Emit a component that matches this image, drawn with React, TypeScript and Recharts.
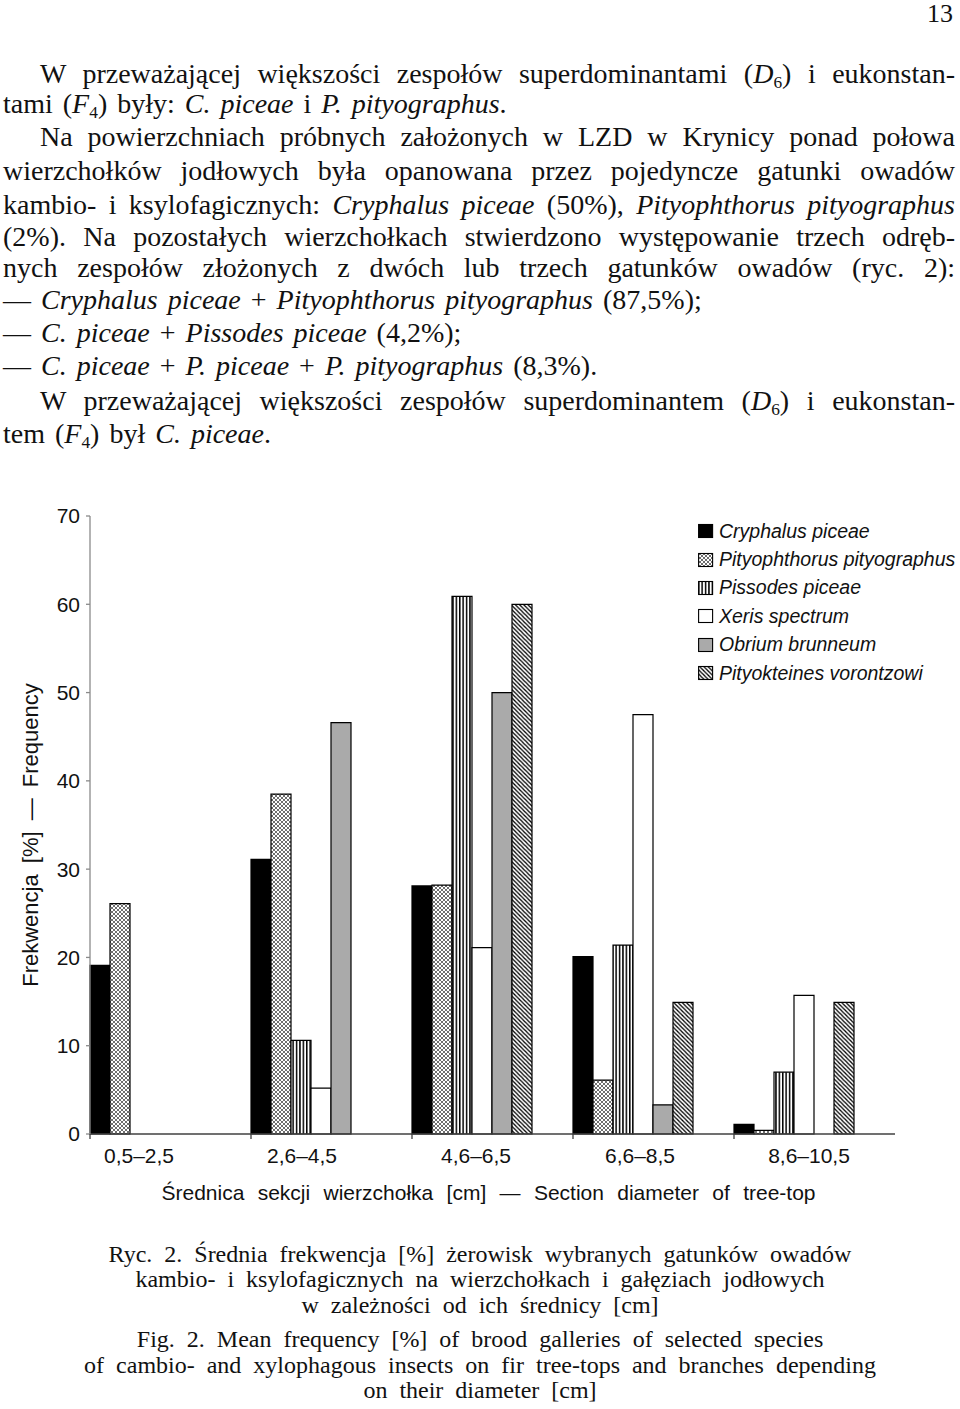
import React from 'react';
import { BarChart, Bar, XAxis, YAxis, Legend } from 'recharts';

// ---------- data ----------
const categories = ['0,5–2,5', '2,6–4,5', '4,6–6,5', '6,6–8,5', '8,6–10,5'];
const cryphalusPiceae = [19.1, 31.1, 28.1, 20.1, 1.1];
const pityophthorusPityographus = [26.1, 38.5, 28.2, 6.1, 0.4];
const pissodesPiceae = [0, 10.6, 60.9, 21.4, 7.0];
const xerisSpectrum = [0, 5.2, 21.1, 47.5, 15.7];
const obriumBrunneum = [0, 46.6, 50.0, 3.3, 0];
const pityokteinesVorontzowi = [0, 0, 60.0, 14.9, 14.9];
const yTicks = [0, 10, 20, 30, 40, 50, 60, 70];
const seriesNames = [
  'Cryphalus piceae',
  'Pityophthorus pityographus',
  'Pissodes piceae',
  'Xeris spectrum',
  'Obrium brunneum',
  'Pityokteines vorontzowi',
];
const seriesValues = [
  cryphalusPiceae,
  pityophthorusPityographus,
  pissodesPiceae,
  xerisSpectrum,
  obriumBrunneum,
  pityokteinesVorontzowi,
];

// ---------- styles / layout ----------
const SANS = '"Liberation Sans", Arial, Helvetica, sans-serif';
const SERIF = '"Liberation Serif", "Times New Roman", serif';
const CHART_TOP = 480;
const CHART_W = 960;
const CHART_H = 760;
const MARGIN = { top: 36, right: 65, bottom: 76, left: 50 };
const Y_AXIS_W = 40;
const X_AXIS_H = 30;
const PLOT_LEFT = MARGIN.left + Y_AXIS_W;
const PLOT_RIGHT = CHART_W - MARGIN.right;
const PLOT_BOTTOM = CHART_H - MARGIN.bottom - X_AXIS_H;
const BAND = (PLOT_RIGHT - PLOT_LEFT) / categories.length;
const LABEL_DX = [49, 51, 64, 67, 75];
const SERIES_FILLS = ['#000000', 'cross', 'vert', '#ffffff', '#aaaaaa', 'diag'];

const fillFor = (f: string, prefix: string) =>
  f.startsWith('#') ? f : `url(#${prefix}${f})`;

const data = categories.map((cat, i) => {
  const row: Record<string, any> = { cat };
  seriesValues.forEach((vals, s) => {
    row[`s${s}`] = vals[i];
  });
  return row;
});

const Patterns = ({ prefix }: { prefix: string }) => (
  <defs>
    <pattern id={`${prefix}cross`} patternUnits="userSpaceOnUse" width={4} height={4}>
      <rect width={4} height={4} fill="#ffffff" />
      <path d="M0,0 L4,4 M4,0 L0,4" stroke="#4a4a4a" strokeWidth={0.8} />
    </pattern>
    <pattern id={`${prefix}vert`} patternUnits="userSpaceOnUse" width={3.4} height={4}>
      <rect width={3.4} height={4} fill="#ffffff" />
      <rect width={1.5} height={4} fill="#000000" />
    </pattern>
    <pattern id={`${prefix}diag`} patternUnits="userSpaceOnUse" width={4.2} height={4.2}>
      <rect width={4.2} height={4.2} fill="#ffffff" />
      <path d="M0,0 L4.2,4.2 M-1,3.2 L1,5.2 M3.2,-1 L5.2,1" stroke="#000000" strokeWidth={1.3} />
    </pattern>
  </defs>
);

const XTick = (props: any) => {
  const { x, payload } = props;
  const index = props.index ?? payload?.index ?? 0;
  const left = x - BAND / 2;
  return (
    <g>
      <line x1={left} x2={left} y1={PLOT_BOTTOM} y2={PLOT_BOTTOM + 5} stroke="#404040" strokeWidth={1.3} />
      <text
        x={left + LABEL_DX[index]}
        y={PLOT_BOTTOM + 29}
        textAnchor="middle"
        fontFamily={SANS}
        fontSize={21}
        fill="#111"
      >
        {payload.value}
      </text>
    </g>
  );
};

const XTitle = () => (
  <text
    x={(PLOT_LEFT + PLOT_RIGHT) / 2 - 4}
    y={PLOT_BOTTOM + 66}
    textAnchor="middle"
    fontFamily={SANS}
    fontSize={21}
    fill="#111"
    style={{ wordSpacing: 7.5 }}
  >
    Średnica sekcji wierzchołka [cm] — Section diameter of tree-top
  </text>
);

const YTitle = () => (
  <text
    x={30}
    y={355}
    transform={`rotate(-90 30 355)`}
    textAnchor="middle"
    dominantBaseline="central"
    fontFamily={SANS}
    fontSize={22}
    fill="#111"
    style={{ wordSpacing: 5 }}
  >
    Frekwencja [%] — Frequency
  </text>
);

const LegendContent = (props: any) => {
  const payload = (props.payload || [])
    .filter((p: any) => p.type !== 'none' && seriesNames.indexOf(p.value) >= 0)
    .slice()
    .sort((a: any, b: any) => seriesNames.indexOf(a.value) - seriesNames.indexOf(b.value));
  return (
    <div style={{ fontFamily: SANS, fontStyle: 'italic', fontSize: 19.5, color: '#111' }}>
      <svg width={0} height={0} style={{ position: 'absolute' }}>
        <Patterns prefix="lg-" />
      </svg>
      {payload.map((entry: any) => {
        const s = seriesNames.indexOf(entry.value);
        return (
          <div key={entry.value} style={{ height: 28.4, display: 'flex', alignItems: 'center', whiteSpace: 'nowrap' }}>
            <svg width={21} height={16} style={{ flex: 'none' }}>
              <rect x={0.6} y={1.5} width={14} height={13} fill={fillFor(SERIES_FILLS[s], 'lg-')} stroke="#000" strokeWidth={1.1} />
            </svg>
            <span>{entry.value}</span>
          </div>
        );
      })}
    </div>
  );
};

const Chart = () => (
  <BarChart
    width={CHART_W}
    height={CHART_H}
    data={data}
    margin={MARGIN}
    barCategoryGap={0}
    barGap={0}
  >
    <Patterns prefix="ch-" />
    <XAxis
      dataKey="cat"
      height={X_AXIS_H}
      interval={0}
      tickLine={false}
      tickSize={0}
      tickMargin={0}
      axisLine={{ stroke: '#404040', strokeWidth: 1.3 }}
      tick={<XTick />}
      label={<XTitle />}
    />
    <YAxis
      width={Y_AXIS_W}
      domain={[0, 70]}
      ticks={yTicks}
      interval={0}
      tickSize={4}
      tickMargin={6}
      axisLine={{ stroke: '#8a8a8a', strokeWidth: 1.3 }}
      tickLine={{ stroke: '#8a8a8a', strokeWidth: 1.3 }}
      tick={{ fontFamily: SANS, fontSize: 21, fill: '#111' }}
      label={<YTitle />}
    />
    <Legend
      layout="vertical"
      align="center"
      verticalAlign="middle"
      wrapperStyle={{ left: 698, top: 37, width: 262 }}
      content={<LegendContent />}
    />
    {seriesNames.map((name, s) => (
      <Bar
        key={name}
        dataKey={`s${s}`}
        name={name}
        fill={fillFor(SERIES_FILLS[s], 'ch-')}
        stroke="#000"
        strokeWidth={1.2}
        isAnimationActive={false}
      />
    ))}
    <Bar dataKey="gapA" legendType="none" isAnimationActive={false} />
    <Bar dataKey="gapB" legendType="none" isAnimationActive={false} />
  </BarChart>
);

// ---------- page text ----------
const I = ({ children }: { children: React.ReactNode }) => <i>{children}</i>;
const Sub = ({ n }: { n: string }) => (
  <sub style={{ fontSize: '0.62em', verticalAlign: '-0.3em', lineHeight: 0, fontStyle: 'normal' }}>{n}</sub>
);

type LineSpec = { c: number; indent?: number; justify?: boolean; content: React.ReactNode };

const bodyLines: LineSpec[] = [
  { c: 77, indent: 37, justify: true, content: <>W przeważającej większości zespołów superdominantami (<I>D</I><Sub n="6" />) i eukonstan-</> },
  { c: 107, content: <>tami (<I>F</I><Sub n="4" />) były: <I>C. piceae</I> i <I>P. pityographus</I>.</> },
  { c: 140, indent: 37, justify: true, content: <>Na powierzchniach próbnych założonych w LZD w Krynicy ponad połowa</> },
  { c: 174, justify: true, content: <>wierzchołków jodłowych była opanowana przez pojedyncze gatunki owadów</> },
  { c: 208, justify: true, content: <>kambio- i ksylofagicznych: <I>Cryphalus piceae</I> (50%), <I>Pityophthorus pityographus</I></> },
  { c: 240, justify: true, content: <>(2%). Na pozostałych wierzchołkach stwierdzono występowanie trzech odręb-</> },
  { c: 271, justify: true, content: <>nych zespołów złożonych z dwóch lub trzech gatunków owadów (ryc. 2):</> },
  { c: 303, content: <>— <I>Cryphalus piceae</I> + <I>Pityophthorus pityographus</I> (87,5%);</> },
  { c: 336, content: <>— <I>C. piceae</I> + <I>Pissodes piceae</I> (4,2%);</> },
  { c: 369, content: <>— <I>C. piceae</I> + <I>P. piceae</I> + <I>P. pityographus</I> (8,3%).</> },
  { c: 404, indent: 37, justify: true, content: <>W przeważającej większości zespołów superdominantem (<I>D</I><Sub n="6" />) i eukonstan-</> },
  { c: 437, content: <>tem (<I>F</I><Sub n="4" />) był <I>C. piceae</I>.</> },
];

const captionLines = [
  { c: 1257, t: 'Ryc. 2. Średnia frekwencja [%] żerowisk wybranych gatunków owadów' },
  { c: 1282, t: 'kambio- i ksylofagicznych na wierzchołkach i gałęziach jodłowych' },
  { c: 1308, t: 'w zależności od ich średnicy [cm]' },
  { c: 1342, t: 'Fig. 2. Mean frequency [%] of brood galleries of selected species' },
  { c: 1368, t: 'of cambio- and xylophagous insects on fir tree-tops and branches depending' },
  { c: 1393, t: 'on their diameter [cm]' },
];

export default function App() {
  return (
    <div style={{ position: 'relative', width: 960, height: 1409, background: '#fff', overflow: 'hidden' }}>
      <style>{`body{margin:0;background:#fff}`}</style>
      <div style={{ position: 'absolute', right: 7, top: 3, fontFamily: SERIF, fontSize: 26, lineHeight: '22px', color: '#111' }}>13</div>
      {bodyLines.map((l, i) => (
        <div
          key={i}
          style={{
            position: 'absolute',
            left: 3 + (l.indent || 0),
            width: 952 - (l.indent || 0),
            top: l.c - 19.4,
            height: 32.7,
            lineHeight: '32.7px',
            fontFamily: SERIF,
            fontSize: 28,
            color: '#111',
            textAlign: l.justify ? 'justify' : 'left',
            textAlignLast: l.justify ? 'justify' : 'auto',
            wordSpacing: l.justify ? 0 : 3,
          }}
        >
          {l.content}
        </div>
      ))}
      <div style={{ position: 'absolute', left: 0, top: CHART_TOP }}>
        <Chart />
      </div>
      {captionLines.map((l, i) => (
        <div
          key={i}
          style={{
            position: 'absolute',
            left: 0,
            width: 960,
            top: l.c - 15.8,
            lineHeight: '26px',
            fontFamily: SERIF,
            fontSize: 24,
            color: '#111',
            textAlign: 'center',
            wordSpacing: 6,
            whiteSpace: 'nowrap',
          }}
        >
          {l.t}
        </div>
      ))}
    </div>
  );
}
